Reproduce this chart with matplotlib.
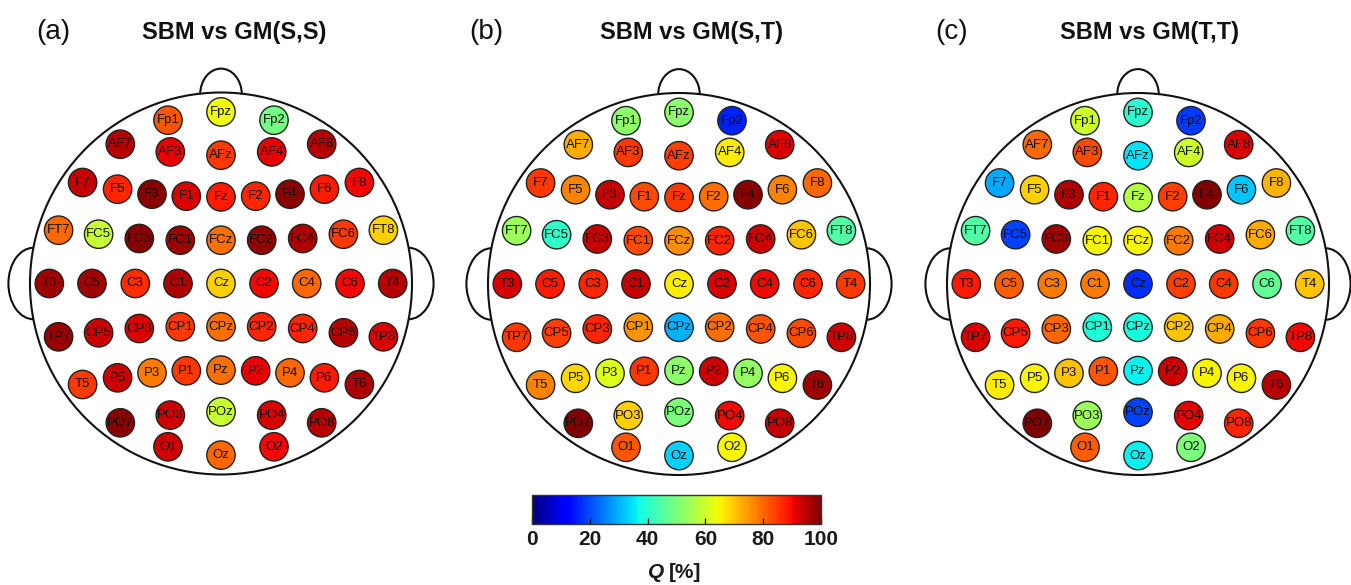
import numpy as np
import matplotlib
matplotlib.use("Agg")
import matplotlib.pyplot as plt
from matplotlib.patches import Circle, Arc

plt.rcParams["font.family"] = ["Liberation Sans", "DejaVu Sans"]

# ---------------------------------------------------------------- data
channels = [
    "Fp1", "Fpz", "Fp2",
    "AF7", "AF3", "AFz", "AF4", "AF8",
    "F7", "F5", "F3", "F1", "Fz", "F2", "F4", "F6", "F8",
    "FT7", "FC5", "FC3", "FC1", "FCz", "FC2", "FC4", "FC6", "FT8",
    "T3", "C5", "C3", "C1", "Cz", "C2", "C4", "C6", "T4",
    "TP7", "CP5", "CP3", "CP1", "CPz", "CP2", "CP4", "CP6", "TP8",
    "T5", "P5", "P3", "P1", "Pz", "P2", "P4", "P6", "T6",
    "PO7", "PO3", "POz", "PO4", "PO8",
    "O1", "Oz", "O2",
]

q_ss = [
    82, 64, 49,
    95, 91, 85, 91, 95,
    94, 87, 99, 92, 88, 87, 99, 88, 90,
    80, 59, 99, 97, 79, 98, 96, 85, 69,
    97, 97, 86, 96, 69, 90, 80, 90, 95,
    98, 93, 92, 85, 79, 87, 87, 95, 92,
    85, 93, 78, 85, 79, 91, 80, 88, 96,
    99, 93, 59, 92, 95,
    93, 80, 90,
]

q_st = [
    52, 52, 16,
    73, 85, 84, 66, 92,
    85, 77, 94, 83, 85, 79, 99, 77, 80,
    54, 41, 94, 83, 76, 87, 93, 70, 45,
    92, 88, 87, 94, 66, 92, 90, 87, 85,
    85, 84, 87, 75, 30, 79, 82, 83, 93,
    77, 68, 62, 85, 52, 93, 53, 65, 97,
    100, 69, 50, 90, 94,
    82, 33, 65,
]

q_tt = [
    60, 40, 18,
    80, 83, 35, 60, 92,
    29, 69, 96, 87, 57, 84, 100, 32, 72,
    45, 19, 97, 65, 65, 78, 93, 73, 45,
    88, 81, 78, 78, 17, 84, 85, 47, 70,
    92, 88, 80, 39, 38, 70, 73, 85, 90,
    66, 65, 70, 82, 36, 93, 65, 65, 95,
    100, 54, 19, 91, 87,
    81, 36, 50,
]

panel_tags = ["(a)", "(b)", "(c)"]
panel_titles = ["SBM vs GM(S,S)", "SBM vs GM(S,T)", "SBM vs GM(T,T)"]
cbar_ticks = [0, 20, 40, 60, 80, 100]

# ---------------------------------------------------------------- montage layout
# Electrode coordinates on a unit head (nose up); rows are mirrored front/back.
HEAD_PX = 191.0
front_rows = [
    [(-53.0, 163.3), (0.0, 171.6), (53.0, 163.3)],
    [(-100.7, 139.3), (-50.7, 131.6), (0.0, 128.3), (50.7, 131.6), (100.7, 139.3)],
    [(-138.4, 101.0), (-103.4, 94.3), (-69.0, 89.3), (-34.7, 87.3), (0.0, 86.6),
     (34.7, 87.3), (69.0, 89.3), (103.4, 94.3), (138.4, 101.0)],
    [(-162.4, 53.3), (-122.4, 49.3), (-81.7, 45.0), (-40.7, 43.3), (0.0, 43.3),
     (40.7, 43.3), (81.7, 45.0), (122.4, 49.3), (162.4, 53.3)],
]
mid_row = [(-171.7, 0.0), (-129.0, 0.0), (-85.7, 0.0), (-43.0, 0.0), (0.0, 0.0),
           (43.0, 0.0), (85.7, 0.0), (129.0, 0.0), (171.7, 0.0)]
layout = []
for row in front_rows:
    layout += row
layout += mid_row
for row in reversed(front_rows):
    layout += [(x, -y) for x, y in row]
pos = np.array(layout) / HEAD_PX

# ---------------------------------------------------------------- figure
W, H = 1351, 585
fig = plt.figure(figsize=(W / 100, H / 100), dpi=100)

centers = [(221.0, 283.5), (679.0, 284.0), (1138.0, 284.0)]
tag_x = [53, 486, 952]
title_x = [234, 691, 1150]
line_col = "#111111"

sc = None
for k, values in enumerate([q_ss, q_st, q_tt]):
    cx, cy = centers[k]
    half = 1.2 * HEAD_PX
    ax = fig.add_axes([(cx - half) / W, (H - cy - half) / H, 2 * half / W, 2 * half / H])
    ax.set_xlim(-1.2, 1.2)
    ax.set_ylim(-1.2, 1.2)
    ax.set_aspect("equal")
    ax.axis("off")
    ax.patch.set_alpha(0)

    # head, nose and ears
    ax.add_patch(Arc((0, 0.99), 0.218, 0.27, theta1=0, theta2=180, lw=1.5, color=line_col))
    ax.add_patch(Arc((-0.982, 0), 0.262, 0.374, theta1=90, theta2=270, lw=1.5, color=line_col))
    ax.add_patch(Arc((0.982, 0), 0.262, 0.374, theta1=-90, theta2=90, lw=1.5, color=line_col))
    ax.add_patch(Circle((0, 0), 1.0, fill=False, lw=1.5, ec=line_col, zorder=2))

    sc = ax.scatter(pos[:, 0], pos[:, 1], c=values, cmap="jet", vmin=0, vmax=100,
                    s=418, edgecolors="#222222", linewidths=1.0, zorder=3)
    for (x, y), name in zip(pos, channels):
        ax.text(x, y, name, ha="center", va="center", fontsize=9.5,
                color="#111111", zorder=4,
                family=["Liberation Sans Narrow", "Liberation Sans", "DejaVu Sans"])

    fig.text(tag_x[k] / W, 1 - 32 / H, panel_tags[k], ha="center", va="center",
             fontsize=20, color="#111111")
    fig.text(title_x[k] / W, 1 - 32 / H, panel_titles[k], ha="center", va="center",
             fontsize=17, fontweight="bold", color="#111111")

# ---------------------------------------------------------------- colour bar
cax = fig.add_axes([532 / W, (H - 523.5) / H, 289 / W, 28.5 / H])
cb = fig.colorbar(sc, cax=cax, orientation="horizontal", ticks=cbar_ticks)
cb.outline.set_linewidth(1.0)
cb.outline.set_edgecolor("#333333")
cax.tick_params(direction="in", length=4, width=1, labelsize=15, pad=5,
                colors="#1a1a1a")
for lab in cax.get_xticklabels():
    lab.set_fontweight("bold")
fig.text(664 / W, 1 - 573 / H, "Q", ha="right", va="center", fontsize=15,
         fontweight="bold", fontstyle="italic", color="#1a1a1a")
fig.text(669 / W, 1 - 573 / H, "[%]", ha="left", va="center", fontsize=15,
         fontweight="bold", color="#1a1a1a")

fig.savefig("out.png", dpi=100, facecolor="white")
